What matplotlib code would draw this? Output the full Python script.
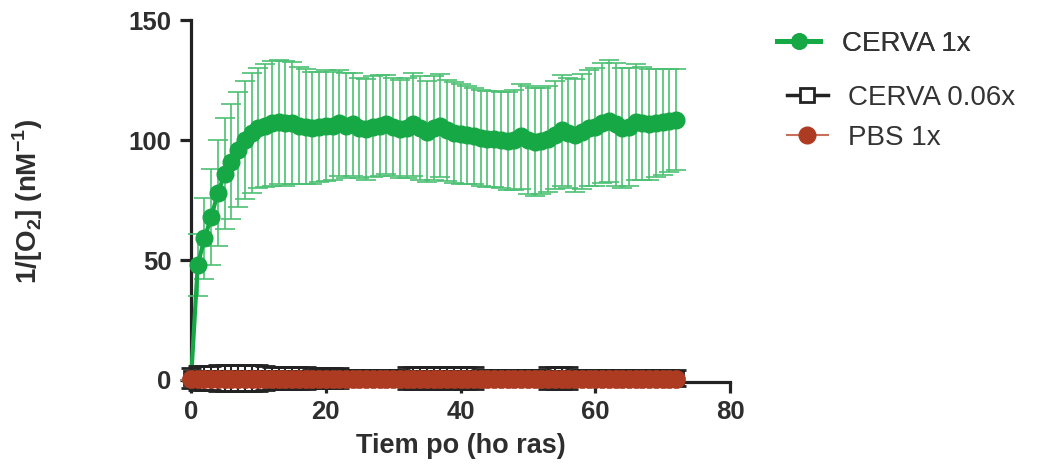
import numpy as np
import matplotlib
matplotlib.use('Agg')
import matplotlib.pyplot as plt

plt.rcParams['font.family'] = ['Liberation Sans', 'DejaVu Sans']
plt.rcParams['mathtext.fontset'] = 'custom'
plt.rcParams['mathtext.rm'] = 'Liberation Sans'
plt.rcParams['mathtext.bf'] = 'Liberation Sans:bold'

# time in hours
hours = np.arange(0, 73)

cerva_1x = [0, 48, 59, 68, 78, 86, 91, 96, 100, 103,
            105, 106, 107, 107.5, 107, 107, 106, 105.5, 105, 105.5,
            106, 106, 107, 106, 106.5, 105, 104.5, 105.5, 106, 106.5,
            105.5, 104.5, 105, 106.5, 105, 103.5, 105, 106, 104, 103,
            102.5, 102, 101.5, 101, 100.5, 100.5, 100, 99.5, 100, 101.5,
            100, 99, 99.5, 100.5, 102, 104, 103, 102, 103.5, 105,
            105.5, 107, 108, 106.5, 105, 105.5, 107.5, 107, 106.5, 107,
            107.5, 108, 108.5]
cerva_1x_sd = [0, 13, 17, 20, 22, 23, 24, 24, 24.5, 25,
               25, 25.5, 26, 26, 26, 25.5, 24.5, 24, 23.5, 23,
               23, 22.5, 22, 22, 21.5, 21, 21, 21, 21, 20.5,
               20.5, 20.5, 21, 21.5, 21.5, 21, 21.5, 21.5, 21, 21,
               21, 20.5, 20, 20, 20, 20, 20, 20.5, 21, 22,
               22.5, 22.5, 22, 22, 22.5, 23, 23, 23.5, 24, 24,
               24.5, 25, 25.5, 25.5, 25, 24.5, 24, 23.5, 23, 22.5,
               22, 21.5, 21]

cerva_006x = [0.8] * 73
cerva_006x_sd = [4, 5, 5, 5, 5.5, 5.5, 5.5, 5.5, 5.5, 5.5,
                 5.5, 5, 4.5, 4.5, 4.5, 4.5, 4.5, 4.5, 4, 4,
                 4, 4, 4, 3.5, 3.5, 3.5, 3.5, 3.5, 3.5, 3.5,
                 3.5, 3.5, 4.5, 4.5, 4.5, 4.5, 4.5, 4.5, 4.5, 4.5,
                 4.5, 4.5, 4.5, 3.5, 3.5, 3.5, 3.5, 3.5, 3.5, 3.5,
                 3.5, 3.5, 3.5, 4.5, 4.5, 4.5, 4.5, 3.5, 3.5, 3.5,
                 3.5, 3.5, 3.5, 3.5, 3.5, 3.5, 3.5, 3.5, 3.5, 3.5,
                 3.5, 3.5, 3.5]

pbs_1x = [0.3] * 73
pbs_1x_sd = [1.0] * 73

green = '#17a846'
red = '#ad3b22'
dark = '#232323'

fig = plt.figure(figsize=(10.37, 4.70), dpi=100)
ax = fig.add_axes([0.1842, 0.1864, 0.5198, 0.771])

ax.errorbar(hours, cerva_1x, yerr=cerva_1x_sd, color=green, lw=3, marker='o',
            ms=12, ecolor='#4cc073', elinewidth=1.2, capsize=7, capthick=1.2,
            zorder=3, clip_on=False)
ax.errorbar(hours, cerva_006x, yerr=cerva_006x_sd, color=dark, lw=2.5, marker='s',
            ms=10, mfc='white', mec=dark, mew=2, ecolor=dark, elinewidth=1.5,
            capsize=7, capthick=2, zorder=4, clip_on=False)
ax.errorbar(hours, pbs_1x, yerr=pbs_1x_sd, color=red, lw=1.2, marker='o',
            ms=13, mec=red, mew=0.5, ecolor='white', elinewidth=1,
            capsize=5, zorder=5, clip_on=False)

ax.set_xlim(0, 80)
ax.set_ylim(-1, 150)
ax.set_xticks([0, 20, 40, 60, 80])
ax.set_yticks([0, 50, 100, 150])

for s in ['top', 'right']:
    ax.spines[s].set_visible(False)
for s in ['left', 'bottom']:
    ax.spines[s].set_linewidth(2.3)
    ax.spines[s].set_color(dark)
    ax.spines[s].set_zorder(2)

ax.tick_params(axis='both', length=8, width=2.3, color=dark, labelsize=18.5,
               labelcolor='#2e2e2e')
ax.tick_params(axis='y', pad=6)
ax.tick_params(axis='x', pad=5)
for lab in ax.get_xticklabels() + ax.get_yticklabels():
    lab.set_fontweight('bold')

ax.set_xlabel('Tiem po (ho ras)', fontsize=19.5, fontweight='bold',
              color='#2e2e2e', labelpad=6)
ax.set_ylabel('1/[O$_\\mathbf{2}$] (nM$^\\mathbf{-1}$)', fontsize=20,
              fontweight='bold', color='#2e2e2e', labelpad=60)

h1, = ax.plot([], [], color=green, lw=3.5, marker='o', ms=11)
h2, = ax.plot([], [], color=dark, lw=2.5, marker='s', ms=10, mfc='white', mew=2)
h3, = ax.plot([], [], color='#c8705c', lw=1.5, marker='o', ms=12, mfc=red, mec=red)

leg1 = fig.legend([h1], ['CERVA 1x'], loc='center left',
                  bbox_to_anchor=(777 / 1037, 1 - 44 / 470), frameon=False,
                  fontsize=20, handlelength=1.55, handletextpad=0.79,
                  borderpad=0, borderaxespad=0, labelcolor='#333333')
leg2 = fig.legend([h2, h3], ['CERVA 0.06x', 'PBS 1x'], loc='center left',
                  bbox_to_anchor=(787 / 1037, 1 - 118 / 470), frameon=False,
                  fontsize=20, handlelength=1.47, handletextpad=0.72,
                  labelspacing=0.5, borderpad=0, borderaxespad=0,
                  labelcolor='#333333')
fig.add_artist(leg1)

fig.savefig('out.png', dpi=100)
